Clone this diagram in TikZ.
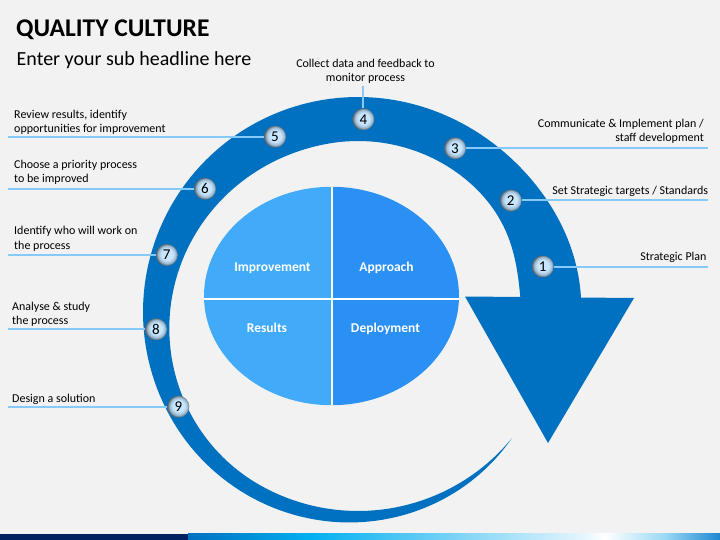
\documentclass[tikz,border=0pt]{standalone}
\usepackage{fontspec}
\setmainfont{Carlito}
\definecolor{bg}{HTML}{F2F2F2}
\definecolor{ringblue}{HTML}{0070C0}
\definecolor{qlight}{HTML}{41ABF9}
\definecolor{qdark}{HTML}{2B90F4}
\definecolor{leader}{HTML}{86CAFA}
\definecolor{ballin}{HTML}{C8E7FE}
\definecolor{ballmid}{HTML}{9DBCD3}
\definecolor{ballout}{HTML}{56646F}
\definecolor{navy}{HTML}{002060}
\definecolor{g0}{HTML}{0070C0}
\definecolor{g1}{HTML}{0090D8}
\definecolor{g2}{HTML}{00B0F0}
\definecolor{g3}{HTML}{80D4F6}
\definecolor{g4}{HTML}{E6F6FD}
\definecolor{g5}{HTML}{FFFFFF}
\definecolor{g6}{HTML}{9AD8F5}
\definecolor{g7}{HTML}{1E88D0}
\pgfdeclareradialshading{ballshade}{\pgfpoint{1bp}{2bp}}{color(0bp)=(ballin); color(13bp)=(ballin); color(20bp)=(ballmid); color(25bp)=(ballout); color(50bp)=(ballout)}
\newcommand{\twol}[1]{\begin{tabular}[t]{@{}l@{}}#1\end{tabular}}
\newcommand{\twor}[1]{\begin{tabular}[t]{@{}r@{}}#1\end{tabular}}
\newcommand{\twoc}[1]{\begin{tabular}[t]{@{}c@{}}#1\end{tabular}}
\begin{document}
\begin{tikzpicture}[x=1pt,y=-1pt,
  declare function={
    ga(\t)=(\t-5)/33;
    gb(\t)=(\t-5)/22;
    tq(\t)=max(\t-210,0)/110.6;
    uu(\t)=min(max((\t-100)/140,0),1);
    ro(\t)=215+8.5*exp(-min(ga(\t)*ga(\t),20))-16*tq(\t)*tq(\t);
    ri(\t)=171-8*exp(-min(gb(\t)*gb(\t),20))+28*uu(\t)*uu(\t)*(3-2*uu(\t));
  },
  ball/.style={circle, minimum size=22pt, inner sep=0pt, shading=ballshade, font=\fontsize{15}{15}\selectfont, text=black},
  quad/.style={anchor=base, inner sep=0pt, text=white, font=\fontsize{13.5}{16}\selectfont\bfseries},
  lbl/.style={inner sep=0pt, text=black, font=\fontsize{12}{14}\selectfont},
  lbll/.style={lbl, anchor=base west},
  lblr/.style={lbl, anchor=base east},
  lblc/.style={lbl, anchor=base},
  leaderline/.style={draw=leader, line width=2pt}]
\useasboundingbox (0,0) rectangle (720,540);
\fill[bg] (0,0) rectangle (720,540);
% bottom bar
\fill[navy] (0,533.5) rectangle (188.5,540);
\shade[left color=g0, right color=g1] (188,533.5) rectangle (250.5,540);
\shade[left color=g1, right color=g2] (250,533.5) rectangle (310.5,540);
\shade[left color=g2, right color=g3] (310,533.5) rectangle (460.5,540);
\shade[left color=g3, right color=g4] (460,533.5) rectangle (585.5,540);
\shade[left color=g4, right color=g5] (585,533.5) rectangle (605.5,540);
\shade[left color=g5, right color=g6] (605,533.5) rectangle (665.5,540);
\shade[left color=g6, right color=g7] (665,533.5) rectangle (720,540);
% title
\node[anchor=base west, inner sep=0pt, font=\fontsize{25.5}{30}\selectfont\bfseries] (title) at (16,36.7) {QUALITY CULTURE};
\node[anchor=base west, inner sep=0pt, font=\fontsize{20}{24}\selectfont] (subtitle) at (16.5,66) {Enter your sub headline here};
% tapered circular arrow
\fill[ringblue] plot[domain=3.5:320.6, samples=160] ({358+ro(\x)*cos(\x)},{312-ro(\x)*sin(\x)})
  -- plot[domain=320.6:4.5, samples=160] ({358+ri(\x)*cos(\x)},{312-ri(\x)*sin(\x)}) -- cycle;
\fill[ringblue] (465,296.5) -- (634,298) -- (548,443) -- cycle;
% central ellipse
\begin{scope}
\clip (331.5,296) ellipse [x radius=127.5, y radius=109.2];
\fill[qlight] (200,180) rectangle (331.5,410);
\fill[qdark] (331.5,180) rectangle (465,410);
\draw[white, line width=2pt] (331.5,180) -- (331.5,410) (200,298.7) -- (465,298.7);
\end{scope}
\node[quad] (qi) at (272.5,271.5) {Improvement};
\node[quad] (qa) at (386.5,271) {Approach};
\node[quad] (qr) at (267,332.7) {Results};
\node[quad] (qd) at (385.5,332.7) {Deployment};
% numbered balls
\node[ball] (c1) at (542.7,266.5) {1};
\node[ball] (c2) at (510.7,200.5) {2};
\node[ball] (c3) at (455,148.3) {3};
\node[ball] (c4) at (363.3,119.3) {4};
\node[ball] (c5) at (275,136.7) {5};
\node[ball] (c6) at (205,188.8) {6};
\node[ball] (c7) at (166.7,255) {7};
\node[ball] (c8) at (156,329.3) {8};
\node[ball] (c9) at (178.3,406.7) {9};
% leader ends
\coordinate (e1) at (708,266.5);
\coordinate (e2) at (708.3,200.5);
\coordinate (e3) at (707.7,148.3);
\coordinate (e4) at (363.3,86);
\coordinate (e5) at (8.3,136.7);
\coordinate (e6) at (8.3,188.8);
\coordinate (e7) at (8.3,255);
\coordinate (e8) at (8.3,329.3);
\coordinate (e9) at (8.3,406.7);
\draw[leaderline] (c1.east) -- (e1);
\draw[leaderline] (c2.east) -- (e2);
\draw[leaderline] (c3.east) -- (e3);
\draw[leaderline] (c4.north) -- (e4);
\draw[leaderline] (c5.west) -- (e5);
\draw[leaderline] (c6.west) -- (e6);
\draw[leaderline] (c7.west) -- (e7);
\draw[leaderline] (c8.west) -- (e8);
\draw[leaderline] (c9.west) -- (e9);
% labels
\node[lblr] (l1) at (706.7,260) {Strategic Plan};
\node[lblr] (l2) at (708.3,194.3) {Set Strategic targets / Standards};
\node[lblr] (l3) at (704,127.3) {\twor{Communicate \& Implement plan /\\staff development}};
\node[lblc] (l4) at (365.5,67.5) {\twoc{Collect data and feedback to\\monitor process}};
\node[lbll] (l5) at (14,119) {\twol{Review results, identify\\opportunities for improvement}};
\node[lbll] (l6) at (14,169) {\twol{Choose a priority process\\to be improved}};
\node[lbll] (l7) at (14,235) {\twol{Identify who will work on\\the process}};
\node[lbll] (l8) at (12,310) {\twol{Analyse \& study\\the process}};
\node[lbll] (l9) at (12,402) {Design a solution};
\end{tikzpicture}
\end{document}
